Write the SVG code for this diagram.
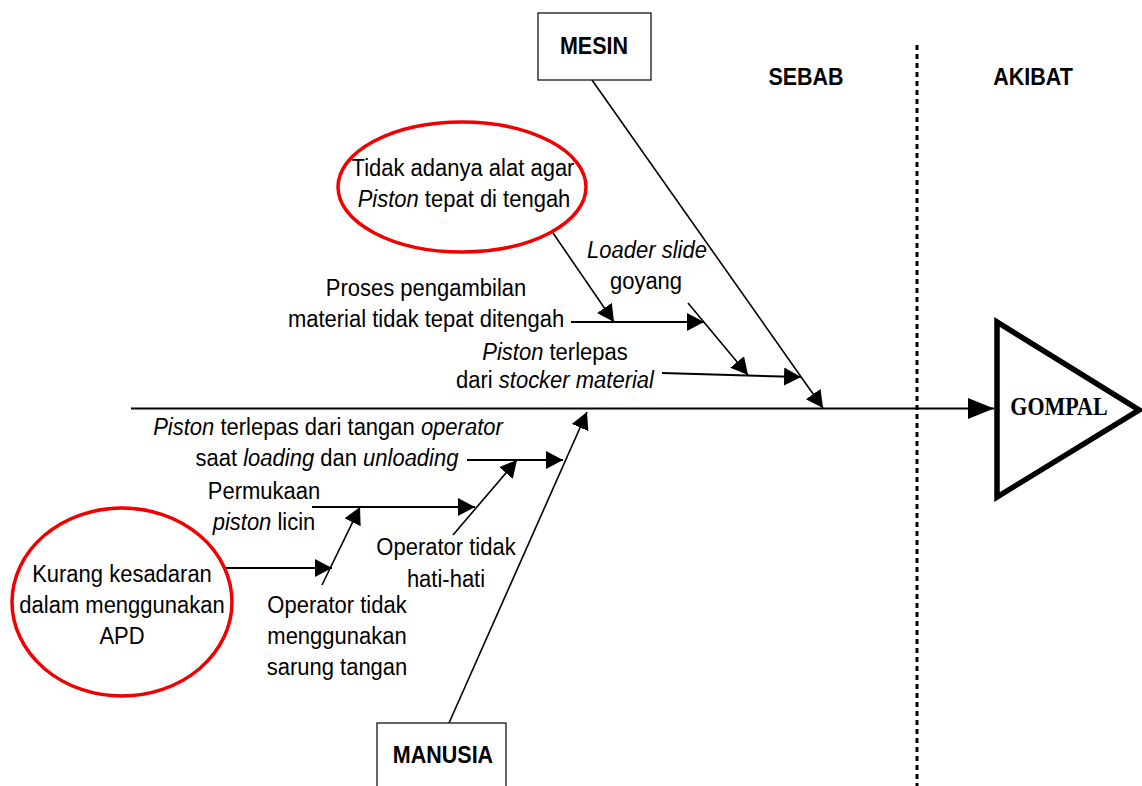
<svg xmlns="http://www.w3.org/2000/svg" width="1142" height="786" viewBox="0 0 1142 786">
  <style>
    .lbl { font-family: "Liberation Sans", Arial, sans-serif; font-size: 22px; fill: #000; text-anchor: middle; }
    .hdr { font-family: "Liberation Sans", Arial, sans-serif; font-size: 21.5px; font-weight: bold; fill: #000; text-anchor: middle; }
    .eff { font-family: "Liberation Serif", "Times New Roman", serif; font-size: 22px; font-weight: bold; fill: #000; text-anchor: middle; }
    .it { font-style: italic; }
    .box { fill: #fff; stroke: #000; stroke-width: 1.2; }
    .ring { fill: none; stroke: #f00000; stroke-width: 3.5; }
    .bone { fill: none; stroke: #000; stroke-width: 1.6; }
    .rib { fill: none; stroke: #000; stroke-width: 2; }
  </style>
  <defs>
    <marker id="head" markerUnits="userSpaceOnUse" markerWidth="18" markerHeight="20" refX="17" refY="9" orient="auto">
      <path d="M0,0 L17,9 L0,18 Z" fill="#000"/>
    </marker>
    <marker id="bighead" markerUnits="userSpaceOnUse" markerWidth="27" markerHeight="22" refX="26" refY="10.5" orient="auto">
      <path d="M0,0 L26,10.5 L0,21 Z" fill="#000"/>
    </marker>
  </defs>

  <rect width="1142" height="786" fill="#fff"/>

  <!-- cause / effect divider; labels are drawn slightly tall (scaled 1:1.12) -->
  <line x1="917" y1="45" x2="917" y2="786" stroke="#000" stroke-width="3" stroke-dasharray="5 4"/>
  <text class="hdr" transform="translate(806 85) scale(1 1.15)">SEBAB</text>
  <text class="hdr" transform="translate(1033 85) scale(1 1.15)">AKIBAT</text>

  <!-- connectors -->
  <g id="connectors">
    <line class="rib" x1="131" y1="408.5" x2="994" y2="408.5" stroke-width="2.2" marker-end="url(#bighead)"/>
    <!-- MESIN bone -->
    <line class="bone" x1="592" y1="80" x2="823" y2="408" marker-end="url(#head)"/>
    <line class="bone" x1="553" y1="233" x2="614" y2="322" marker-end="url(#head)"/>
    <line class="rib" x1="571" y1="322" x2="704" y2="322" marker-end="url(#head)"/>
    <line class="bone" x1="688" y1="303" x2="748" y2="375" marker-end="url(#head)"/>
    <line class="rib" x1="662" y1="373" x2="801" y2="377" marker-end="url(#head)"/>
    <!-- MANUSIA bone -->
    <line class="bone" x1="449" y1="723" x2="587" y2="412" marker-end="url(#head)"/>
    <line class="rib" x1="467" y1="460" x2="563" y2="460" marker-end="url(#head)"/>
    <line class="bone" x1="453" y1="535" x2="517" y2="460" marker-end="url(#head)"/>
    <line class="rib" x1="312" y1="507" x2="475" y2="507" marker-end="url(#head)"/>
    <line class="bone" x1="322" y1="585" x2="360" y2="507" marker-end="url(#head)"/>
    <line class="rib" x1="225" y1="568" x2="332" y2="568" marker-end="url(#head)"/>
  </g>

  <!-- categories -->
  <g id="mesin">
    <rect class="box" x="538" y="13" width="113" height="67"/>
    <text class="hdr" transform="translate(594 54) scale(1 1.15)">MESIN</text>
  </g>
  <g id="manusia">
    <rect class="box" x="377" y="723" width="129" height="70"/>
    <text class="hdr" transform="translate(443 763) scale(1 1.15)">MANUSIA</text>
  </g>

  <!-- effect -->
  <g id="gompal">
    <path d="M997,322 L997,497 L1139,410 Z" fill="#fff" stroke="#000" stroke-width="5.5" stroke-linejoin="miter"/>
    <text class="eff" transform="translate(1059 415) scale(1 1.15)">GOMPAL</text>
  </g>

  <!-- root causes (circled) -->
  <g id="alat-piston">
    <ellipse class="ring" cx="462" cy="187" rx="124" ry="65"/>
    <text class="lbl" transform="translate(463 176) scale(1 1.12)">Tidak adanya alat agar</text>
    <text class="lbl" transform="translate(464 207) scale(1 1.12)"><tspan class="it">Piston</tspan> tepat di tengah</text>
  </g>
  <g id="kesadaran-apd">
    <ellipse class="ring" cx="122" cy="602" rx="110" ry="94"/>
    <text class="lbl" transform="translate(122 582) scale(1 1.12)">Kurang kesadaran</text>
    <text class="lbl" transform="translate(122 613) scale(1 1.12)">dalam menggunakan</text>
    <text class="lbl" transform="translate(122 644) scale(1 1.12)">APD</text>
  </g>

  <!-- machine causes -->
  <g id="loader-slide">
    <text class="lbl" transform="translate(647 258) scale(1 1.12)"><tspan class="it">Loader slide</tspan></text>
    <text class="lbl" transform="translate(646 289) scale(1 1.12)">goyang</text>
  </g>
  <g id="proses-pengambilan">
    <text class="lbl" transform="translate(426 296) scale(1 1.12)">Proses pengambilan</text>
    <text class="lbl" transform="translate(426 327) scale(1 1.12)">material tidak tepat ditengah</text>
  </g>
  <g id="piston-stocker">
    <text class="lbl" transform="translate(555 360) scale(1 1.12)"><tspan class="it">Piston</tspan> terlepas</text>
    <text class="lbl" transform="translate(555 388) scale(1 1.12)">dari <tspan class="it">stocker material</tspan></text>
  </g>

  <!-- human causes -->
  <g id="piston-tangan">
    <text class="lbl" transform="translate(328 435) scale(1 1.12)"><tspan class="it">Piston</tspan> terlepas dari tangan <tspan class="it">operator</tspan></text>
    <text class="lbl" transform="translate(327 466) scale(1 1.12)">saat <tspan class="it">loading</tspan> dan <tspan class="it">unloading</tspan></text>
  </g>
  <g id="permukaan-licin">
    <text class="lbl" transform="translate(264 499) scale(1 1.12)">Permukaan</text>
    <text class="lbl" transform="translate(264 530) scale(1 1.12)"><tspan class="it">piston</tspan> licin</text>
  </g>
  <g id="operator-hati">
    <text class="lbl" transform="translate(446 555) scale(1 1.12)">Operator tidak</text>
    <text class="lbl" transform="translate(446 587) scale(1 1.12)">hati-hati</text>
  </g>
  <g id="operator-sarung">
    <text class="lbl" transform="translate(337 613) scale(1 1.12)">Operator tidak</text>
    <text class="lbl" transform="translate(337 644) scale(1 1.12)">menggunakan</text>
    <text class="lbl" transform="translate(337 675) scale(1 1.12)">sarung tangan</text>
  </g>
</svg>
